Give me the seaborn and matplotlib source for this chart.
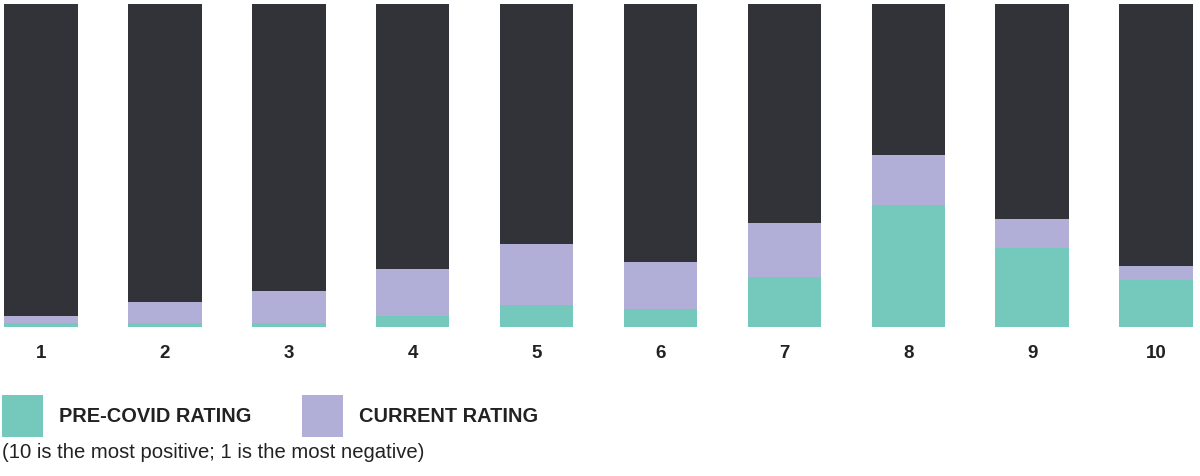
import matplotlib
matplotlib.use("Agg")
import matplotlib.pyplot as plt
import seaborn as sns
import pandas as pd
import numpy as np

# ---- data ----
ratings = ["1", "2", "3", "4", "5", "6", "7", "8", "9", "10"]
pre_covid = [1, 1, 1, 3, 6, 5, 14, 34, 22, 13]
current = [2, 6, 9, 13, 17, 13, 15, 14, 8, 4]
scale_max = 90
legend_labels = ["PRE-COVID RATING", "CURRENT RATING"]
footnote = "(10 is the most positive; 1 is the most negative)"

TEAL = "#74C9BC"
PURPLE = "#B1AED7"
DARK = "#323338"

sns.set_theme(style="white")
plt.rcParams["font.family"] = ["Liberation Sans", "DejaVu Sans"]

df = pd.DataFrame({
    "rating": ratings,
    "pre": pre_covid,
    "current": current,
})
df["stack_top"] = df["pre"] + df["current"]
df["bg"] = scale_max

fig = plt.figure(figsize=(12, 4.76), dpi=100)
ax = fig.add_axes([0, (476 - 326.7) / 476, 1, (326.7 - 4.3) / 476])

w = 0.593
sns.barplot(data=df, x="rating", y="bg", color=DARK, width=w, saturation=1,
            linewidth=0, ax=ax)
sns.barplot(data=df, x="rating", y="stack_top", color=PURPLE, width=w,
            saturation=1, linewidth=0, ax=ax, label=legend_labels[1])
sns.barplot(data=df, x="rating", y="pre", color=TEAL, width=w, saturation=1,
            linewidth=0, ax=ax, label=legend_labels[0])

ax.set_ylim(0, scale_max)
ax.set_xlim(-41 / 123.9, (1200 - 41) / 123.9)
ax.set_xlabel("")
ax.set_ylabel("")
ax.set_yticks([])
for s in ax.spines.values():
    s.set_visible(False)
ax.tick_params(axis="x", length=0, pad=13.5)
for lab in ax.get_xticklabels():
    lab.set_fontsize(13.5)
    lab.set_fontweight("bold")
    lab.set_color("#222222")

handles, labels = ax.get_legend_handles_labels()
order = [labels.index(legend_labels[0]), labels.index(legend_labels[1])]
fs = 14.4
fpx = fs / 72 * 100
leg = fig.legend([handles[i] for i in order], [labels[i] for i in order],
                 loc="upper left", bbox_to_anchor=(2 / 1200, 1 - 395 / 476),
                 ncol=2, frameon=False, borderpad=0, borderaxespad=0,
                 handlelength=41 / fpx, handleheight=2.854,
                 handletextpad=16 / fpx, columnspacing=51 / fpx,
                 prop={"weight": "bold", "size": fs})
for t in leg.get_texts():
    t.set_color("#222222")
if ax.get_legend() is not None:
    ax.get_legend().remove()

fig.text(2 / 1200, 1 - 452 / 476, footnote, ha="left", va="center",
         fontsize=14.6, color="#222222")

fig.savefig("out.png", dpi=100)
